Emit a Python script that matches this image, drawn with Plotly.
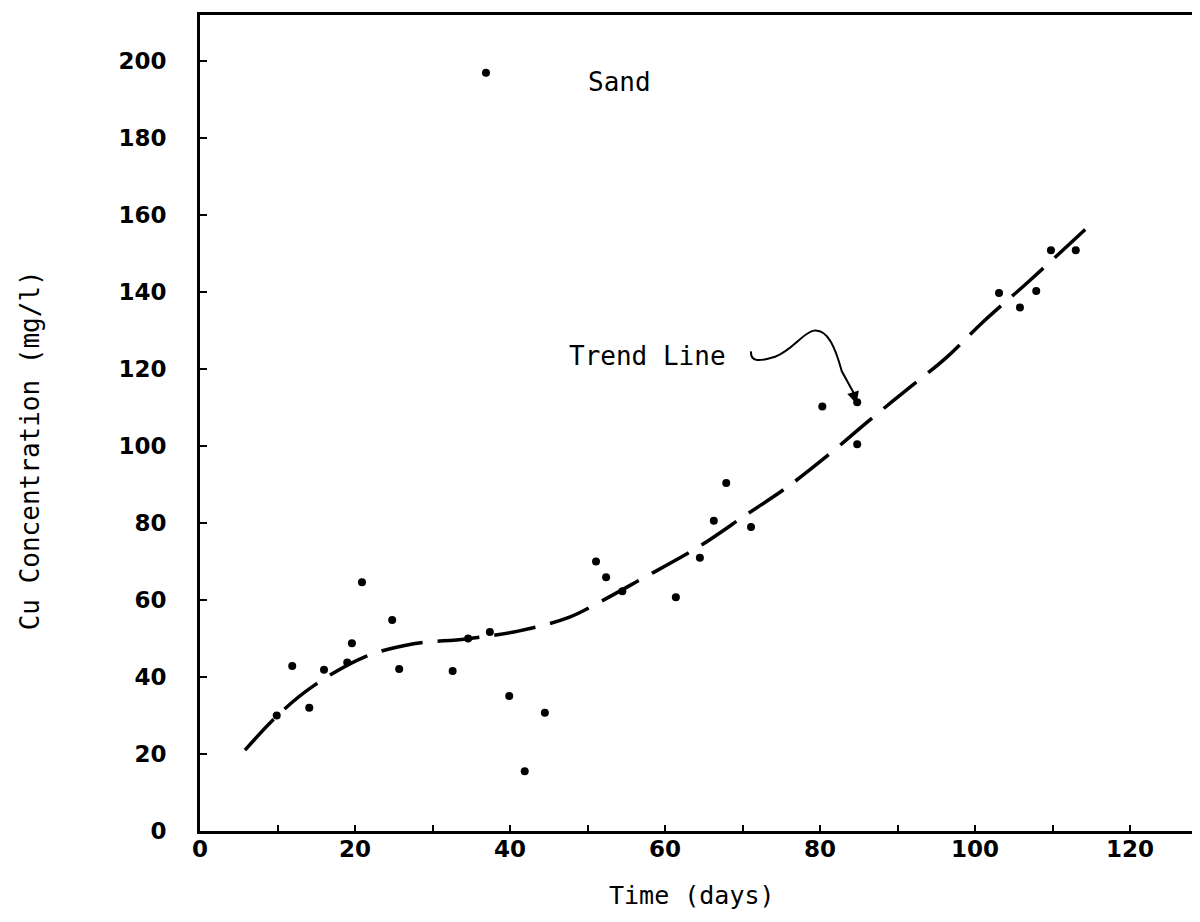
import plotly.graph_objects as go

# Measured data points (Time in days, Cu concentration mg/l)
days = [9.9, 11.9, 14.1, 16.0, 19.0, 19.6, 20.9, 24.8, 25.7, 32.6, 34.6, 36.9,
        37.4, 39.9, 41.9, 44.5, 51.1, 52.4, 54.5, 61.4, 64.5, 66.3, 67.9, 71.1,
        80.3, 84.8, 84.8, 103.1, 105.8, 107.9, 109.8, 113.0]
cu = [30.0, 42.9, 32.0, 41.9, 43.8, 48.8, 64.6, 54.8, 42.1, 41.6, 50.0, 197.0,
      51.7, 35.1, 15.5, 30.7, 70.0, 65.9, 62.3, 60.7, 71.0, 80.6, 90.4, 79.0,
      110.3, 111.4, 100.5, 139.8, 136.0, 140.3, 150.9, 150.9]

# Hand-drawn trend line
trend_days = [5.8, 10.0, 14.5, 21.2, 27.4, 34.3, 41.2, 47.6, 51.5, 57.0, 64.4,
              70.5, 75.6, 81.5, 85.9, 91.1, 96.3, 100.9, 107.0, 115.1]
trend_cu = [21.0, 30.0, 37.5, 45.2, 48.6, 49.9, 52.0, 55.5, 59.4, 65.5, 73.9,
            82.2, 89.1, 98.4, 105.9, 114.5, 123.0, 132.0, 142.9, 157.9]

x_tickvals = [0, 20, 40, 60, 80, 100, 120]
y_tickvals = [0, 20, 40, 60, 80, 100, 120, 140, 160, 180, 200]

fig = go.Figure()
fig.add_trace(go.Scatter(
    x=trend_days, y=trend_cu, mode="lines",
    line=dict(color="black", width=3.5, dash="42px,15px", shape="spline", smoothing=1.0),
    hoverinfo="skip", showlegend=False))
fig.add_trace(go.Scatter(
    x=days, y=cu, mode="markers",
    marker=dict(color="black", size=8),
    showlegend=False))

tickfont = dict(family="DejaVu Sans", size=23, color="black")
mono = "DejaVu Sans Mono"

fig.update_layout(
    width=1184, height=906,
    margin=dict(l=192, r=0, t=7, b=83),
    paper_bgcolor="white", plot_bgcolor="white",
    xaxis=dict(range=[0, 128], showgrid=False, zeroline=False,
               showline=True, linecolor="black", linewidth=3, mirror=True,
               tickmode="array", tickvals=x_tickvals,
               ticktext=[f"<b>{v}</b>" for v in x_tickvals],
               ticks="inside", ticklen=6, tickwidth=2, tickcolor="black",
               minor=dict(dtick=10, ticks="inside", ticklen=6, tickwidth=2, tickcolor="black"),
               tickfont=tickfont, ticklabelstandoff=-5),
    yaxis=dict(range=[0, 212], showgrid=False, zeroline=False,
               showline=True, linecolor="black", linewidth=3, mirror=False,
               tickmode="array", tickvals=y_tickvals,
               ticktext=[f"<b>{v}</b>" for v in y_tickvals],
               ticks="inside", ticklen=7, tickwidth=2, tickcolor="black",
               tickfont=tickfont, ticklabelstandoff=26),
    annotations=[
        dict(text="Time (days)", xref="paper", yref="paper", x=0.496, y=-0.079,
             showarrow=False, font=dict(family=mono, size=25, color="black"),
             xanchor="center", yanchor="middle"),
        dict(text="Cu Concentration (mg/l)", xref="paper", yref="paper", x=-0.171, y=0.467,
             showarrow=False, textangle=-90, font=dict(family=mono, size=26, color="black"),
             xanchor="center", yanchor="middle"),
        dict(text="Sand", xref="x", yref="y", x=54.1, y=194.5, showarrow=False,
             font=dict(family=mono, size=26, color="black"), xanchor="center", yanchor="middle"),
        dict(text="Trend Line", xref="x", yref="y", x=57.7, y=123.4, showarrow=False,
             font=dict(family=mono, size=26, color="black"), xanchor="center", yanchor="middle"),
        dict(text="", xref="x", yref="y", axref="x", ayref="y",
             x=84.7, y=111.0, ax=84.2, ay=114.5, showarrow=True,
             arrowhead=2, arrowsize=1.2, arrowwidth=2, arrowcolor="black"),
    ],
    shapes=[
        dict(type="path", xref="x", yref="y",
             path="M 71.1,124.6 C 71.0,122.0 72.0,121.8 74.2,123.2 C 76.5,125.0 77.8,129.5 79.2,130.0 C 81.0,130.5 82.0,125.5 82.8,119.5 L 84.3,114.0",
             line=dict(color="black", width=2)),
    ],
)

fig.write_html("out.html")
